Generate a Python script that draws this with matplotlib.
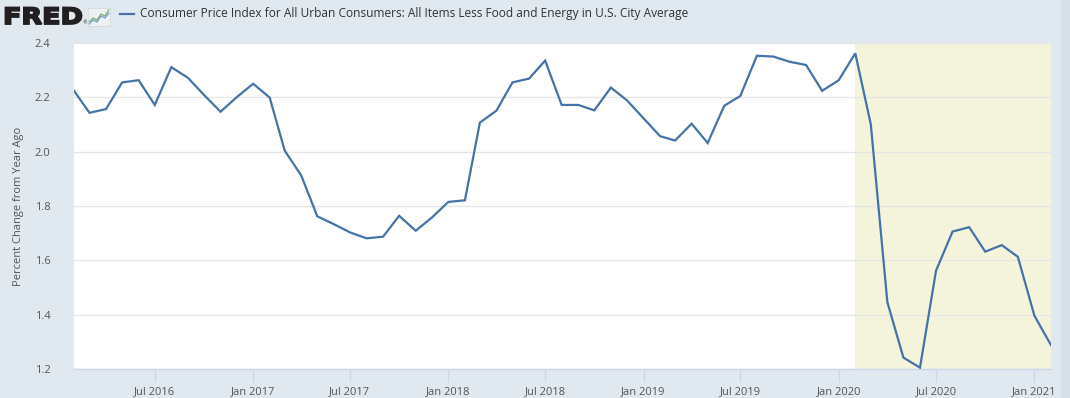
import matplotlib
matplotlib.use("Agg")
import matplotlib.pyplot as plt
import matplotlib.dates as mdates
from matplotlib.textpath import TextPath
from matplotlib.patches import PathPatch
from matplotlib.font_manager import FontProperties
import pandas as pd

# ---- data ----
start_month = "2016-02-01"
values = [
    2.224, 2.143, 2.157, 2.255, 2.263, 2.172, 2.311, 2.272, 2.209, 2.147, 2.200,   # Feb-Dec 2016
    2.250, 2.199, 2.004, 1.912, 1.762, 1.733, 1.703, 1.681, 1.687, 1.764, 1.709, 1.757,  # 2017
    1.815, 1.821, 2.107, 2.151, 2.255, 2.269, 2.335, 2.172, 2.172, 2.152, 2.236, 2.189,  # 2018
    2.123, 2.057, 2.041, 2.103, 2.032, 2.169, 2.205, 2.353, 2.350, 2.331, 2.319, 2.224,  # 2019
    2.263, 2.362, 2.101, 1.446, 1.242, 1.205, 1.562, 1.706, 1.722, 1.632, 1.656, 1.613,  # 2020
    1.396, 1.288,  # 2021
]
dates = pd.date_range(start_month, periods=len(values), freq="MS")
recession_start = pd.Timestamp("2020-02-01")
series_label = ("Consumer Price Index for All Urban Consumers: All Items Less Food "
                "and Energy in U.S. City Average")
y_label = "Percent Change from Year Ago"
y_ticks = [1.2, 1.4, 1.6, 1.8, 2.0, 2.2, 2.4]

# ---- style ----
BG = "#e1e9f0"
LINE = "#4572a7"
SHADE = "#f4f4dc"
GRID = "#e6e6e6"
TXT = "#555555"
FONT = "Open Sans"
W, H = 1070, 398

fig = plt.figure(figsize=(W/100, H/100), dpi=100, facecolor=BG)
ax = fig.add_axes([74/W, 1-369/H, (1051-74)/W, (369-43)/H])
ax.set_facecolor("white")

ax.axvspan(recession_start, dates[-1], color=SHADE, zorder=0, lw=0)
ax.plot(dates, values, color=LINE, lw=1.6, zorder=3, solid_joinstyle="miter")

ax.set_xlim(dates[0], dates[-1])
ax.set_ylim(1.2, 2.4)
ax.set_yticks(y_ticks)
ax.set_yticklabels([f"{t:.1f}" for t in y_ticks])
ax.yaxis.grid(True, color=GRID, lw=1, zorder=1)
ax.set_axisbelow(True)

ax.xaxis.set_major_locator(mdates.MonthLocator(bymonth=[1, 7]))
ax.xaxis.set_major_formatter(mdates.DateFormatter("%b %Y"))

for s in ["top", "right", "left"]:
    ax.spines[s].set_visible(False)
ax.spines["bottom"].set_color("#ccd6eb")
ax.spines["bottom"].set_linewidth(1)

ax.tick_params(axis="x", length=9, width=1, color="#ccd6eb", labelsize=8, labelcolor=TXT, pad=3)
ax.tick_params(axis="y", length=0, labelsize=8, labelcolor=TXT, pad=17)
for lab in ax.get_xticklabels() + ax.get_yticklabels():
    lab.set_family(FONT)

ax.set_ylabel(y_label, family=FONT, fontsize=8, color=TXT, labelpad=8)

# ---- header: FRED logo (stretched text path) ----
tp = TextPath((0, 0), "FRED", size=10, prop=FontProperties(family="DejaVu Sans", weight="heavy"))
ext = tp.get_extents()
logo = fig.add_axes([5.5/W, 1-24/H, 76/W, 16.5/H])
logo.set_xlim(ext.x0, ext.x1)
logo.set_ylim(ext.y0, ext.y1)
logo.add_patch(PathPatch(tp, facecolor="#231f20", edgecolor="#231f20", lw=1.3,
                         joinstyle="miter", clip_on=False))
logo.axis("off")
fig.text(82.5/W, 1-23/H, "®", fontsize=3.5, color="#231f20", va="center", ha="left")

icon = fig.add_axes([88/W, 1-26/H, 22/W, 18/H])
icon.set_facecolor("#eef1f2")
icon.plot([0, 1, 2, 3, 4, 5], [1, 2, 1.5, 3, 2.5, 4], color="#7fb06a", lw=0.9)
icon.plot([0, 1, 2, 3, 4, 5], [0.5, 1.5, 1, 2.5, 2, 3.2], color="#6f9fcf", lw=0.9)
icon.set_xlim(-0.3, 5.3); icon.set_ylim(0, 4.5)
icon.set_xticks([]); icon.set_yticks([])
for s in icon.spines.values():
    s.set_color("#d0d6da"); s.set_linewidth(0.5)

# ---- legend ----
fig.add_artist(plt.Line2D([120/W, 134/W], [1-14/H, 1-14/H], color=LINE, lw=1.6))
fig.text(140/W, 1-14/H, series_label, family=FONT, fontsize=8.6, color="#333333",
         va="center", ha="left")

# right scrollbar-like strip
fig.add_artist(plt.Rectangle((1061/W, 0), 9/W, 1, transform=fig.transFigure,
                             color="#d6dee6", lw=0))

fig.savefig("out.png", dpi=100, facecolor=BG)
